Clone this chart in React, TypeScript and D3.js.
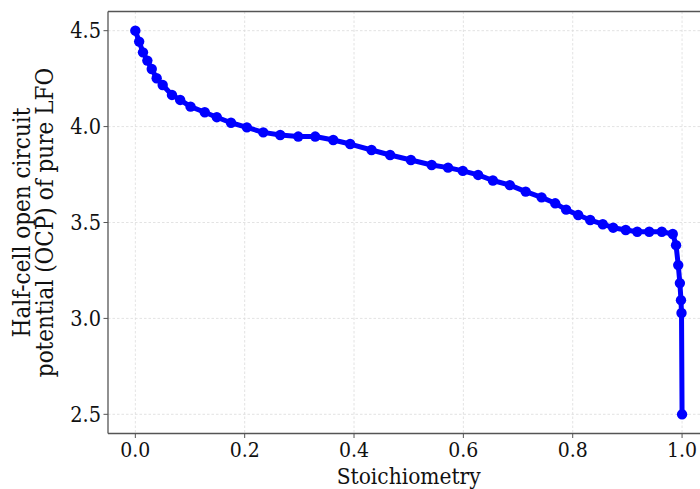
import React from "react";
import * as d3 from "d3";

const stoich = [0, 0.007, 0.014, 0.022, 0.030, 0.039, 0.050, 0.067, 0.082, 0.101, 0.127, 0.149, 0.175, 0.204, 0.234, 0.265, 0.298, 0.329, 0.362, 0.393, 0.432, 0.466, 0.504, 0.542, 0.572, 0.599, 0.627, 0.654, 0.685, 0.714, 0.743, 0.768, 0.788, 0.810, 0.832, 0.855, 0.874, 0.897, 0.918, 0.940, 0.963, 0.983, 0.989, 0.993, 0.996, 0.998, 0.999, 1.0];
const ocp = [4.5, 4.443, 4.387, 4.344, 4.30, 4.252, 4.217, 4.165, 4.139, 4.104, 4.075, 4.049, 4.020, 3.996, 3.970, 3.956, 3.948, 3.948, 3.930, 3.909, 3.878, 3.852, 3.826, 3.800, 3.786, 3.769, 3.748, 3.719, 3.695, 3.661, 3.631, 3.600, 3.567, 3.539, 3.513, 3.491, 3.473, 3.461, 3.452, 3.452, 3.452, 3.440, 3.382, 3.278, 3.184, 3.095, 3.028, 2.5];

const xTicks = [0, 0.2, 0.4, 0.6, 0.8, 1.0];
const yTicks = [2.5, 3.0, 3.5, 4.0, 4.5];
const xLabel = "Stoichiometry";
const yLabelLines = ["Half-cell open circuit", "potential (OCP) of pure LFO"];

const W = 700;
const H = 489;
const FONT = "'DejaVu Serif Condensed', 'DejaVu Serif', serif";

export default function App() {
  const left = 108;
  const top = 11.5;
  const bottom = 433.5;
  const right = 709.4;
  const x = d3.scaleLinear().domain([-0.05, 1.05]).range([left, right]);
  const y = d3.scaleLinear().domain([2.4, 4.6]).range([bottom, top]);
  const data = stoich.map((s, i) => [s, ocp[i]] as [number, number]);
  const line = d3
    .line<[number, number]>()
    .x((d) => x(d[0]))
    .y((d) => y(d[1]));
  const spine = "#555";
  const midY = (top + bottom) / 2;

  return (
    <svg
      width={W}
      height={H}
      style={{ position: "absolute", left: 0, top: 0, background: "#fff" }}
      fontFamily={FONT}
    >
      <rect x={0} y={0} width={W} height={H} fill="#fff" />
      {xTicks.map((t) => (
        <line
          key={"gx" + t}
          x1={x(t)}
          x2={x(t)}
          y1={top}
          y2={bottom}
          stroke="#dcdcdc"
          strokeWidth={0.8}
          strokeDasharray="2.5,2"
        />
      ))}
      {yTicks.map((t) => (
        <line
          key={"gy" + t}
          x1={left}
          x2={W}
          y1={y(t)}
          y2={y(t)}
          stroke="#dcdcdc"
          strokeWidth={0.8}
          strokeDasharray="2.5,2"
        />
      ))}
      <path d={line(data) || ""} fill="none" stroke="#0000ff" strokeWidth={5} strokeLinejoin="round" />
      {data.map((d, i) => (
        <circle key={i} cx={x(d[0])} cy={y(d[1])} r={5.2} fill="#0000ff" />
      ))}
      <line x1={left} x2={left} y1={top} y2={bottom} stroke={spine} strokeWidth={1.3} />
      <line x1={left} x2={W} y1={bottom} y2={bottom} stroke={spine} strokeWidth={1.3} />
      <line x1={left} x2={W} y1={top} y2={top} stroke={spine} strokeWidth={1.3} />
      {xTicks.map((t) => (
        <g key={"tx" + t}>
          <line x1={x(t)} x2={x(t)} y1={bottom} y2={bottom + 4.5} stroke={spine} strokeWidth={1} />
          <text x={x(t)} y={bottom + 23.5} textAnchor="middle" fontSize={21} fill="#111">
            {t.toFixed(1)}
          </text>
        </g>
      ))}
      {yTicks.map((t) => (
        <g key={"ty" + t}>
          <line x1={left - 4.5} x2={left} y1={y(t)} y2={y(t)} stroke={spine} strokeWidth={1} />
          <text x={left - 7} y={y(t) + 7.5} textAnchor="end" fontSize={21.5} fill="#111">
            {t.toFixed(1)}
          </text>
        </g>
      ))}
      <text x={x(0.5)} y={483.5} textAnchor="middle" fontSize={22.5} fill="#111">
        {xLabel}
      </text>
      <text transform={`translate(30,${midY}) rotate(-90)`} textAnchor="middle" fontSize={24} fill="#111">
        {yLabelLines[0]}
      </text>
      <text transform={`translate(53,${midY}) rotate(-90)`} textAnchor="middle" fontSize={24} fill="#111">
        {yLabelLines[1]}
      </text>
    </svg>
  );
}
